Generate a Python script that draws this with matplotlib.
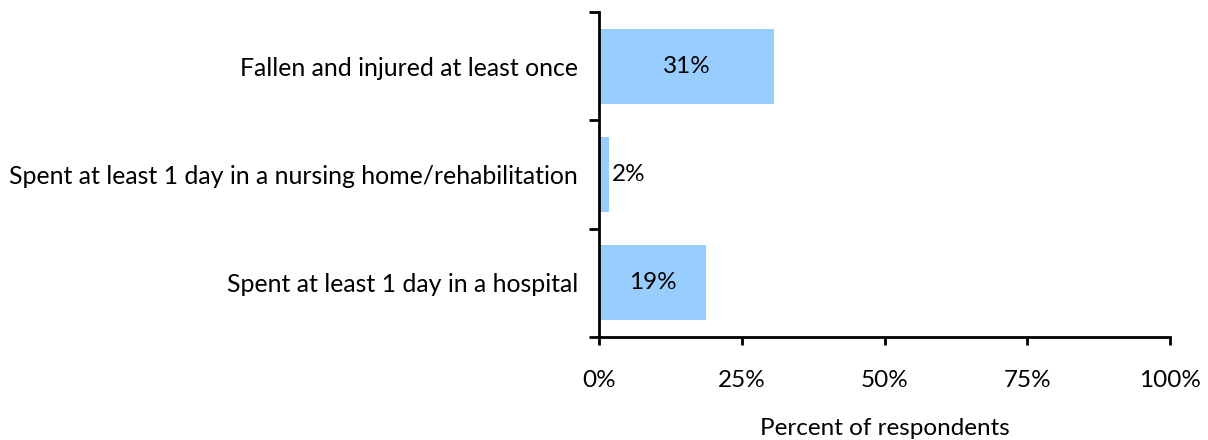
import matplotlib.pyplot as plt
from matplotlib.ticker import FuncFormatter

plt.rcParams['font.family'] = ['Lato', 'DejaVu Sans']

# ===== data =====
categories = ['Fallen and injured at least once',
              'Spent at least 1 day in a nursing home/rehabilitation',
              'Spent at least 1 day in a hospital']
values = [30.7, 1.8, 18.7]
x_ticks = [0, 25, 50, 75, 100]

C_BAR = '#99CCFF'
FS = 17.5

fig = plt.figure(figsize=(12.08, 4.4), dpi=100)
ax = fig.add_axes([599 / 1208, 1 - 337 / 440, 571 / 1208, 325 / 440])

pos = list(range(len(categories)))[::-1]
ax.barh(pos, values, height=0.69, color=C_BAR, zorder=2)

for p, v in zip(pos, values):
    if v > 10:
        ax.text(v / 2, p, f'{v:.0f}%', ha='center', va='center', fontsize=FS)
    else:
        ax.text(v + 0.5, p, f'{v:.0f}%', ha='left', va='center', fontsize=FS)

ax.set_xlim(0, 100)
ax.set_ylim(-0.5, len(categories) - 0.5)
ax.set_xticks(x_ticks)
ax.xaxis.set_major_formatter(FuncFormatter(lambda x, _: f'{x:.0f}%'))

# category labels between the boundary ticks
ax.set_yticks([-0.5, 0.5, 1.5, 2.5])
ax.set_yticklabels([])
ax.set_yticks(pos, minor=True)
ax.set_yticklabels(categories, minor=True)
ax.tick_params(axis='y', which='minor', length=0, pad=15, labelsize=17.9)
ax.tick_params(axis='y', which='major', length=7, width=2)
ax.tick_params(axis='x', length=6, width=2, pad=18, labelsize=FS)

for s in ['top', 'right']:
    ax.spines[s].set_visible(False)
for s in ['left', 'bottom']:
    ax.spines[s].set_linewidth(2)

ax.set_xlabel('Percent of respondents', fontsize=FS, labelpad=19)

plt.savefig('out.png', dpi=100)
